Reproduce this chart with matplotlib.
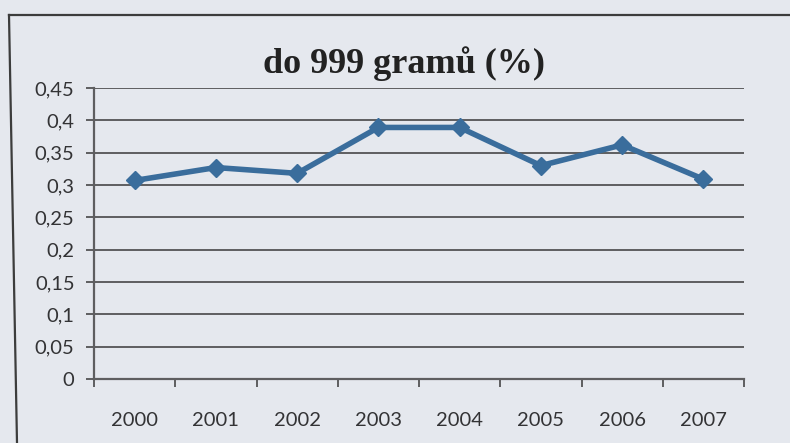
import matplotlib
matplotlib.use("Agg")
import matplotlib.pyplot as plt
from matplotlib.lines import Line2D

years = ["2000", "2001", "2002", "2003", "2004", "2005", "2006", "2007"]
values = [0.307, 0.327, 0.318, 0.389, 0.389, 0.330, 0.362, 0.309]
ytick_values = [0, 0.05, 0.1, 0.15, 0.2, 0.25, 0.3, 0.35, 0.4, 0.45]
ytick_labels = ["0", "0,05", "0,1", "0,15", "0,2", "0,25", "0,3", "0,35", "0,4", "0,45"]
title = "do 999 gramů (%)"

bg = "#e5e8ee"
line_color = "#3a6d9c"
grid_color = "#5e5e60"

fig = plt.figure(figsize=(7.9, 4.43), dpi=100)
fig.patch.set_facecolor(bg)

ax = fig.add_axes([94 / 790, 1 - 379 / 443, (744 - 94) / 790, (379 - 88) / 443])
ax.set_facecolor(bg)

x = list(range(len(years)))
ax.plot(x, values, color=line_color, lw=4.0, marker="D", ms=9.5,
        markeredgecolor=line_color, markerfacecolor=line_color, zorder=3,
        solid_joinstyle="round")

ax.set_xlim(-0.5, len(years) - 0.5)
ax.set_ylim(0, 0.45)

ax.set_yticks(ytick_values)
ax.set_yticklabels(ytick_labels)
for v in ytick_values[1:]:
    ax.axhline(v, color=grid_color, lw=1.4, zorder=1)

ax.set_xticks([i - 0.5 for i in range(len(years) + 1)])
ax.set_xticklabels([""] * (len(years) + 1))
ax.set_xticks(x, minor=True)
ax.set_xticklabels(years, minor=True)
ax.tick_params(axis="x", which="minor", length=0, pad=24)
ax.tick_params(axis="x", which="major", length=6, width=1.4, color=grid_color, direction="out")
ax.tick_params(axis="y", length=6, width=1.4, color=grid_color, direction="out", pad=8)

for lab in ax.get_xticklabels(minor=True) + ax.get_yticklabels():
    lab.set_fontfamily("Lato")
    lab.set_fontsize(14.5)
    lab.set_color("#333335")

for s in ["top", "right"]:
    ax.spines[s].set_visible(False)
ax.spines["left"].set_color(grid_color)
ax.spines["left"].set_linewidth(1.6)
ax.spines["bottom"].set_color(grid_color)
ax.spines["bottom"].set_linewidth(1.6)

fig.text(404 / 790, 1 - 64 / 443, title, ha="center", va="center",
         fontfamily="Liberation Serif", fontweight="bold", fontsize=26, color="#222222")

# outer frame of the scanned chart
fig.add_artist(Line2D([9 / 790, 1.0], [1 - 15 / 443, 1 - 15 / 443], transform=fig.transFigure,
                      color="#3c3c3c", lw=1.6))
fig.add_artist(Line2D([9 / 790, 17 / 790], [1 - 15 / 443, 0.0], transform=fig.transFigure,
                      color="#3c3c3c", lw=1.6))

fig.savefig("out.png", dpi=100, facecolor=bg)
